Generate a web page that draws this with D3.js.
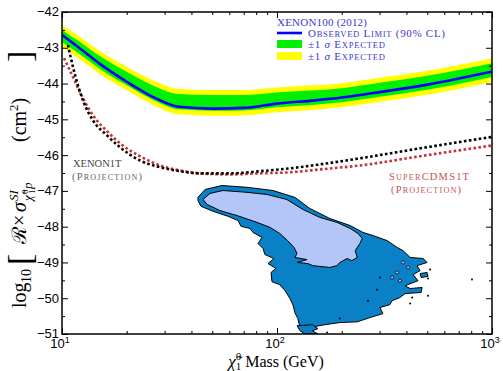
<!DOCTYPE html>
<html>
<head>
<meta charset="utf-8">
<script src="https://cdn.jsdelivr.net/npm/d3@7"></script>
<style>
  body { margin: 0; background: #fff; }
  svg { display: block; }
  .tick text { font-family: "Liberation Sans", Arial, sans-serif; font-size: 13px; fill: #000; }
  .serif { font-family: "Liberation Serif", "Times New Roman", serif; }
</style>
</head>
<body>
<svg id="chart" width="503" height="371"></svg>
<script>
// XENON100 (2012) limit + bands
const massGrid = [10, 12, 15, 20, 26, 35, 50, 70, 100, 150, 200, 300, 500, 700, 1000];
const observed = [-42.64, -43.0, -43.45, -43.95, -44.35, -44.65, -44.70, -44.68, -44.56, -44.47, -44.39, -44.24, -44.03, -43.86, -43.67];
const yellowHi = [-42.36, -42.68, -43.09, -43.53, -43.89, -44.15, -44.18, -44.18, -44.11, -44.05, -43.99, -43.84, -43.64, -43.48, -43.29];
const greenHi = [-42.50, -42.82, -43.23, -43.67, -44.03, -44.29, -44.32, -44.32, -44.25, -44.19, -44.13, -43.98, -43.78, -43.62, -43.43];
const greenLo = [-42.84, -43.17, -43.59, -44.05, -44.43, -44.72, -44.76, -44.75, -44.66, -44.59, -44.52, -44.37, -44.17, -44.01, -43.82];
const yellowLo = [-42.98, -43.31, -43.73, -44.19, -44.57, -44.86, -44.90, -44.89, -44.80, -44.73, -44.66, -44.51, -44.31, -44.15, -43.96];

// projections (dotted)
const xenon1tMass = [10.66, 11.25, 12.5, 13.94, 16.19, 18.6, 23.05, 28.6, 35.4, 43.9, 60.5, 83.5, 115, 158, 243, 464, 1000];
const xenon1tSigma = [-42.92, -43.54, -44.46, -45.03, -45.45, -45.78, -46.15, -46.34, -46.45, -46.51, -46.51, -46.45, -46.37, -46.26, -46.09, -45.81, -45.49];
const cdmsMass = [10.22, 11.13, 12.52, 13.94, 16.19, 18.6, 23.05, 28.6, 35.4, 43.9, 60.5, 83.5, 115, 158, 243, 464, 1000];
const cdmsSigma = [-43.29, -43.76, -44.41, -44.89, -45.33, -45.67, -46.03, -46.29, -46.43, -46.51, -46.54, -46.51, -46.48, -46.40, -46.29, -46.03, -45.73];

// model scan contours [mass, log10 sigma]
const outerRegion = [[42.9,-47.18],[46.3,-46.96],[55.5,-46.85],[72.5,-46.90],[95.8,-46.99],[121,-47.18],[142,-47.49],
  [176,-47.77],[219,-47.97],[251,-48.16],[280,-48.25],[325,-48.39],[362,-48.58],[386,-48.67],[416,-48.86],[478,-48.89],
  [499,-49.00],[448,-49.09],[463,-49.23],[429,-49.34],[453,-49.51],[394,-49.65],[416,-49.73],[473,-49.70],[468,-49.84],
  [394,-49.87],[373,-49.98],[343,-50.07],[335,-50.18],[301,-50.26],[311,-50.43],[271,-50.54],[236,-50.66],[196,-50.68],
  [167,-50.74],[147,-50.80],[134,-50.82],[128,-50.82],[125,-50.57],[121,-50.40],[119,-50.21],[115,-50.01],[109,-49.79],
  [103,-49.62],[94.8,-49.54],[93.8,-49.28],[98.9,-49.17],[90.8,-49.03],[96.8,-48.89],[87.9,-48.78],[86.1,-48.61],
  [81.6,-48.47],[85.2,-48.30],[77.3,-48.16],[74.9,-48.05],[68.0,-47.99],[65.9,-47.83],[59.2,-47.71],[50.4,-47.57],
  [44.3,-47.43],[42.9,-47.27]];
const bottomRegion = [[124,-50.77],[146,-50.74],[155,-50.85],[146,-50.91],[155,-51.0],[135,-51.0],[128,-50.91]];
const islandRegion = [[463,-49.31],[499,-49.28],[504,-49.39],[468,-49.42]];
const innerRegion = [[45.3,-47.24],[48.8,-47.07],[56.1,-46.99],[72.5,-47.04],[89.8,-47.10],[111,-47.24],[132,-47.52],
  [158,-47.74],[190,-47.88],[219,-48.05],[238,-48.19],[249,-48.33],[243,-48.47],[231,-48.67],[236,-48.86],[223,-48.95],
  [212,-48.89],[196,-49.00],[190,-49.09],[176,-49.14],[147,-49.09],[139,-49.03],[124,-49.00],[138,-48.92],[121,-48.86],
  [124,-48.75],[120,-48.58],[112,-48.39],[103,-48.19],[92.8,-48.02],[80.7,-47.88],[65.2,-47.69],[54.3,-47.55],[47.3,-47.38]];
const specks = [[515,-49.20],[504,-49.45],[504,-49.93],[425,-49.98],[416,-50.15],[807,-49.48],[265,-50.07],[292,-49.76],[196,-50.57],[171,-50.96],[301,-49.42]];
const holes = [[362,-49.28],[373,-49.51],[343,-49.42],[407,-49.14],[386,-49.00]];

// axes
const xMajor = [10, 100, 1000];
const xMinor = [20, 30, 40, 50, 60, 70, 80, 90, 200, 300, 400, 500, 600, 700, 800, 900];
const xLabels = ["1", "2", "3"];
const yMajor = [-51, -50, -49, -48, -47, -46, -45, -44, -43, -42];
const yMinor = [-50.5, -49.5, -48.5, -47.5, -46.5, -45.5, -44.5, -43.5, -42.5];

const W = 503, H = 371;
const m = {left: 62, right: 11, top: 12, bottom: 37};
const svg = d3.select("#chart");

const x = d3.scaleLog().domain([10, 1000]).range([m.left, W - m.right]);
const y = d3.scaleLinear().domain([-51, -42]).range([H - m.bottom, m.top]);

svg.append("defs").append("clipPath").attr("id", "plot")
  .append("rect").attr("x", m.left).attr("y", m.top)
  .attr("width", W - m.left - m.right).attr("height", H - m.top - m.bottom);

const plot = svg.append("g").attr("clip-path", "url(#plot)");

function band(lo, hi) {
  return d3.area().curve(d3.curveMonotoneX)
    .x((d, i) => x(massGrid[i])).y0((d, i) => y(lo[i])).y1((d, i) => y(hi[i]))(massGrid);
}
plot.append("path").attr("d", band(yellowLo, yellowHi)).attr("fill", "#ffff00");
plot.append("path").attr("d", band(greenLo, greenHi)).attr("fill", "#00f000");
plot.append("path")
  .attr("d", d3.line().curve(d3.curveMonotoneX).x((d, i) => x(massGrid[i])).y(d => y(d))(observed))
  .attr("fill", "none").attr("stroke", "#0000ff").attr("stroke-width", 2.6);

function dotted(ms, ss, col) {
  plot.append("path")
    .attr("d", d3.line().curve(d3.curveMonotoneX).x((d, i) => x(ms[i])).y(d => y(d))(ss))
    .attr("fill", "none").attr("stroke", col).attr("stroke-width", 2.6)
    .attr("stroke-dasharray", "2.6,2.4");
}
dotted(cdmsMass, cdmsSigma, "#c83232");
dotted(xenon1tMass, xenon1tSigma, "#000");

const poly = d3.line().curve(d3.curveLinearClosed).x(d => x(d[0])).y(d => y(d[1]));
[outerRegion, bottomRegion, islandRegion].forEach(r => {
  plot.append("path").attr("d", poly(r)).attr("fill", "#0a80c6")
    .attr("stroke", "#000").attr("stroke-width", 1);
});
plot.append("path").attr("d", poly(innerRegion)).attr("fill", "#b4c6f8")
  .attr("stroke", "#000").attr("stroke-width", 1);
plot.selectAll("circle.speck").data(specks).join("circle").attr("class", "speck")
  .attr("cx", d => x(d[0])).attr("cy", d => y(d[1])).attr("r", 1).attr("fill", "#000");
plot.selectAll("circle.hole").data(holes).join("circle").attr("class", "hole")
  .attr("cx", d => x(d[0])).attr("cy", d => y(d[1])).attr("r", 1.6)
  .attr("fill", "#b4c6f8").attr("stroke", "#000").attr("stroke-width", 0.8);

// axes, ticks inward
const axB = svg.append("g").attr("transform", `translate(0,${H - m.bottom})`);
axB.call(d3.axisBottom(x).tickValues(xMajor).tickSize(-6).tickSizeOuter(0).tickFormat(""));
axB.append("g").call(d3.axisBottom(x).tickValues(xMinor).tickSize(-3).tickSizeOuter(0).tickFormat(""));
const axT = svg.append("g").attr("transform", `translate(0,${m.top})`);
axT.call(d3.axisTop(x).tickValues(xMajor).tickSize(-6).tickSizeOuter(0).tickFormat(""));
axT.append("g").call(d3.axisTop(x).tickValues(xMinor).tickSize(-3).tickSizeOuter(0).tickFormat(""));
const axL = svg.append("g").attr("transform", `translate(${m.left},0)`);
axL.call(d3.axisLeft(y).tickValues(yMajor).tickSize(-6).tickSizeOuter(0).tickPadding(3));
axL.append("g").call(d3.axisLeft(y).tickValues(yMinor).tickSize(-3).tickSizeOuter(0).tickFormat(""));
const axR = svg.append("g").attr("transform", `translate(${W - m.right},0)`);
axR.call(d3.axisRight(y).tickValues(yMajor).tickSize(-6).tickSizeOuter(0).tickFormat(""));
axR.append("g").call(d3.axisRight(y).tickValues(yMinor).tickSize(-3).tickSizeOuter(0).tickFormat(""));
svg.selectAll(".domain").remove();
svg.selectAll(".tick line").attr("stroke", "#000");
axL.selectAll(".tick text").attr("dy", "0.3em");

svg.append("rect").attr("x", m.left).attr("y", m.top)
  .attr("width", W - m.left - m.right).attr("height", H - m.top - m.bottom)
  .attr("fill", "none").attr("stroke", "#000").attr("stroke-width", 1.5);

// x tick labels 10^n
const xl = svg.selectAll("text.xlab").data(xMajor).join("text").attr("class", "xlab")
  .attr("x", d => x(d) - 2).attr("y", H - m.bottom + 14)
  .attr("text-anchor", "middle")
  .style("font-family", "Liberation Sans, Arial, sans-serif").style("font-size", "13px");
xl.append("tspan").text("10");
xl.append("tspan").attr("dy", -5).style("font-size", "9px").text((d, i) => xLabels[i]);

// x title
const xt = svg.append("text").attr("class", "serif").attr("x", 276).attr("y", 367)
  .attr("text-anchor", "middle").style("font-size", "16px");
xt.append("tspan").style("font-style", "italic").style("font-size", "17px").text("\u03C7\u0303");
xt.append("tspan").attr("dy", -7).style("font-size", "11px").text("0");
xt.append("tspan").attr("dx", -5.5).attr("dy", 10).style("font-size", "11px").text("1");
xt.append("tspan").attr("dy", -3).text(" Mass (GeV)");

// y title, pieces placed along the rotated baseline (xr = -screen y)
const yg = svg.append("g").attr("class", "serif").attr("transform", "translate(26,0) rotate(-90)");
function yPiece(xr, yr, size, str, italic) {
  return yg.append("text").attr("x", xr).attr("y", yr).style("font-size", size + "px")
    .style("font-style", italic ? "italic" : "normal").text(str);
}
yPiece(-308, 0, 20, "log");
yPiece(-283, 5, 14, "10");
yPiece(-265, 5, 34, "[");
yPiece(-244, 0, 20, "\u211B");
yPiece(-226, 0, 20, "\u00D7");
yPiece(-212, 0, 20, "\u03C3", true);
yPiece(-201, -8, 13, "SI", true);
yPiece(-201, 6, 13, "\u03C7\u0303", true);
yPiece(-194, 2, 9, "0");
yPiece(-194, 9, 9, "1");
yPiece(-189, 6, 13, "p", true);
const cm = yPiece(-142, 0, 20, "(cm");
cm.append("tspan").attr("dy", -8).style("font-size", "13px").text("2");
cm.append("tspan").attr("dy", 8).text(")");
yPiece(-62, 5, 34, "]");

// small caps made by hand: lower-case runs upper-cased at a smaller size
function smallCaps(sel, str, size) {
  str.match(/[a-z]+|[^a-z]+/g).forEach(r => {
    const low = /[a-z]/.test(r[0]);
    sel.append("tspan").style("font-size", (low ? size * 0.78 : size) + "px")
      .text(low ? r.toUpperCase() : r);
  });
  return sel;
}

// legend
const blue = "#3a3ad0";
const lg = svg.append("g").attr("class", "serif").style("fill", blue);
lg.append("text").attr("x", 277).attr("y", 26).style("font-size", "11px")
  .attr("textLength", 90).attr("lengthAdjust", "spacing").text("XENON100 (2012)");
lg.append("line").attr("x1", 277).attr("x2", 302).attr("y1", 33).attr("y2", 33)
  .attr("stroke", "#0000ff").attr("stroke-width", 2.6);
smallCaps(lg.append("text").attr("x", 308).attr("y", 37), "Observed Limit (90% CL)", 11)
  .attr("textLength", 137).attr("lengthAdjust", "spacing");
lg.append("rect").attr("x", 277).attr("y", 40).attr("width", 25).attr("height", 8).attr("fill", "#00f000");
lg.append("rect").attr("x", 277).attr("y", 52).attr("width", 25).attr("height", 8).attr("fill", "#ffff00");
[48, 60].forEach(yy => {
  const t = lg.append("text").attr("x", 308).attr("y", yy);
  t.append("tspan").style("font-size", "11px").text("\u00B11 ");
  t.append("tspan").style("font-size", "11px").style("font-style", "italic").text("\u03C3");
  smallCaps(t, " Expected", 11);
  t.attr("textLength", 77).attr("lengthAdjust", "spacing");
});

// projection labels
const lab1 = svg.append("g").attr("class", "serif").style("fill", "#444");
lab1.append("text").attr("x", 73).attr("y", 167).style("font-size", "10.5px").text("XENON1T");
smallCaps(lab1.append("text").attr("x", 72).attr("y", 180), "(Projection)", 10.5)
  .style("fill", "#666").attr("textLength", 70).attr("lengthAdjust", "spacing");
const lab2 = svg.append("g").attr("class", "serif").style("fill", "#c85050");
smallCaps(lab2.append("text").attr("x", 389).attr("y", 180), "SuperCDMS1T", 10.5)
  .attr("textLength", 80).attr("lengthAdjust", "spacing");
smallCaps(lab2.append("text").attr("x", 391).attr("y", 193), "(Projection)", 10.5)
  .attr("textLength", 70).attr("lengthAdjust", "spacing");
</script>
</body>
</html>
